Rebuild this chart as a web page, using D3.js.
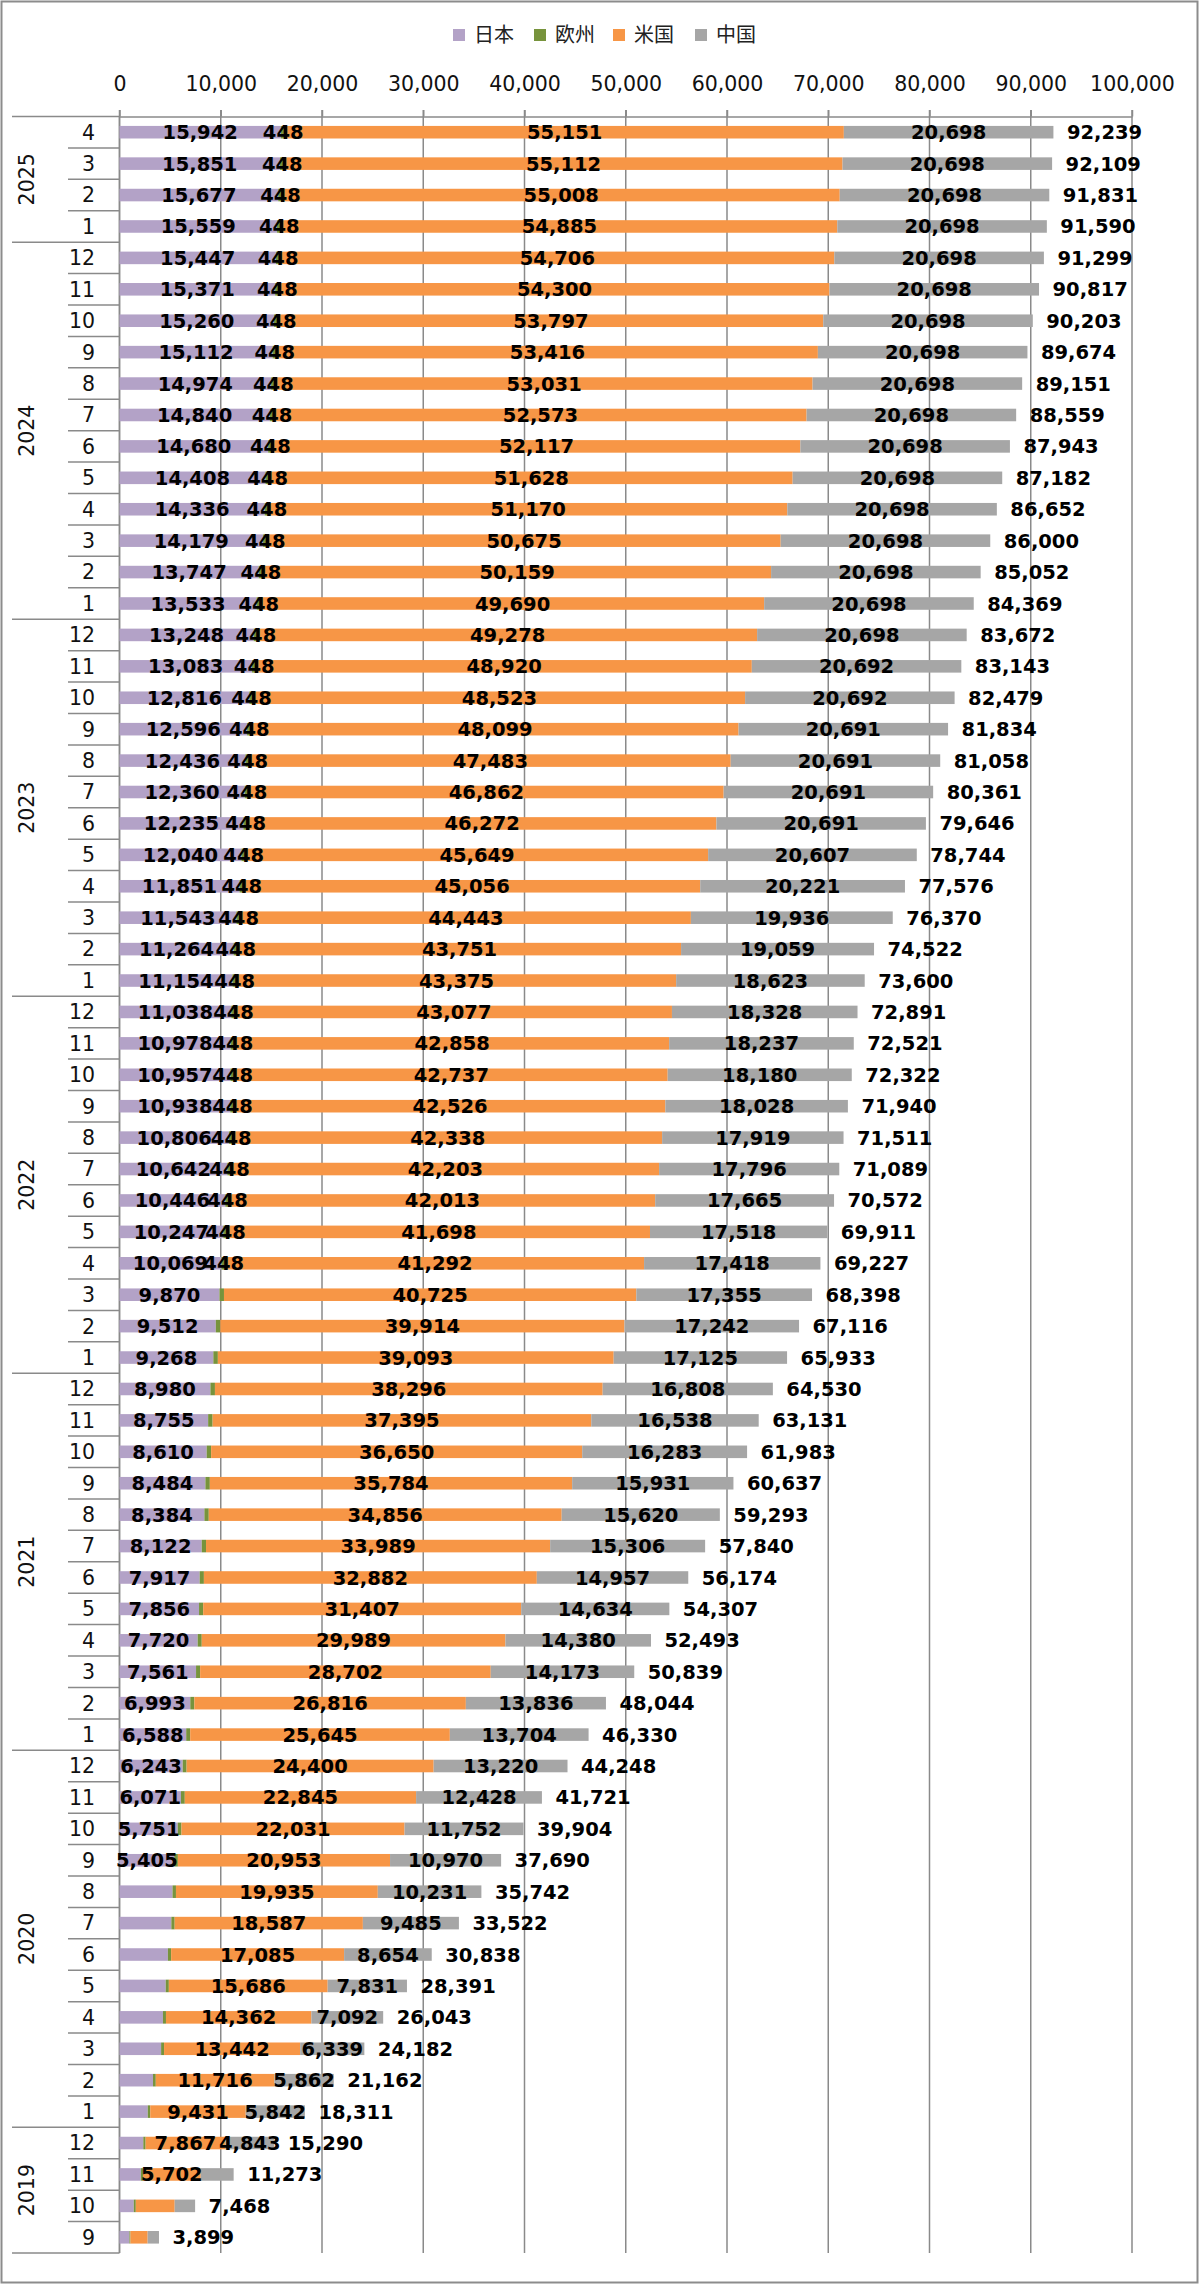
<!DOCTYPE html>
<html>
<head>
<meta charset="utf-8">
<script src="https://cdn.jsdelivr.net/npm/d3@7"></script>
<style>
  html, body { margin: 0; padding: 0; background: #fff; }
  svg { display: block; }
</style>
</head>
<body>
<svg id="chart" width="1200" height="2285"></svg>
<script>
// ---------------- DATA (chronological, oldest first) ----------------
const yearLabels = ["2019", "2020", "2021", "2022", "2023", "2024", "2025"];
const monthsPerYear = [
  [9, 10, 11, 12],
  [1, 2, 3, 4, 5, 6, 7, 8, 9, 10, 11, 12],
  [1, 2, 3, 4, 5, 6, 7, 8, 9, 10, 11, 12],
  [1, 2, 3, 4, 5, 6, 7, 8, 9, 10, 11, 12],
  [1, 2, 3, 4, 5, 6, 7, 8, 9, 10, 11, 12],
  [1, 2, 3, 4, 5, 6, 7, 8, 9, 10, 11, 12],
  [1, 2, 3, 4]
];
const seriesNames = ["日本", "欧州", "米国", "中国"];
const seriesColors = ["#b3a2c7", "#77933c", "#f79646", "#a6a6a6"];

const japan = [
  980, 1410, 2110, 2350,
  2790, 3310, 4110, 4290, 4565, 4780, 5120, 5235, 5405, 5751, 6071, 6243,
  6588, 6993, 7561, 7720, 7856, 7917, 8122, 8384, 8484, 8610, 8755, 8980,
  9268, 9512, 9870, 10069, 10247, 10446, 10642, 10806, 10938, 10957, 10978, 11038,
  11154, 11264, 11543, 11851, 12040, 12235, 12360, 12436, 12596, 12816, 13083, 13248,
  13533, 13747, 14179, 14336, 14408, 14680, 14840, 14974, 15112, 15260, 15371, 15447,
  15559, 15677, 15851, 15942
];
const europe = [
  100, 200, 210, 230,
  248, 274, 291, 299, 309, 319, 330, 341, 362, 370, 377, 385,
  393, 399, 403, 404, 410, 418, 423, 433, 438, 440, 443, 446,
  447, 448, 448, 448, 448, 448, 448, 448, 448, 448, 448, 448,
  448, 448, 448, 448, 448, 448, 448, 448, 448, 448, 448, 448,
  448, 448, 448, 448, 448, 448, 448, 448, 448, 448, 448, 448,
  448, 448, 448, 448
];
const usa = [
  1700, 3840, 5702, 7867,
  9431, 11716, 13442, 14362, 15686, 17085, 18587, 19935, 20953, 22031, 22845, 24400,
  25645, 26816, 28702, 29989, 31407, 32882, 33989, 34856, 35784, 36650, 37395, 38296,
  39093, 39914, 40725, 41292, 41698, 42013, 42203, 42338, 42526, 42737, 42858, 43077,
  43375, 43751, 44443, 45056, 45649, 46272, 46862, 47483, 48099, 48523, 48920, 49278,
  49690, 50159, 50675, 51170, 51628, 52117, 52573, 53031, 53416, 53797, 54300, 54706,
  54885, 55008, 55112, 55151
];
const china = [
  1119, 2018, 3251, 4843,
  5842, 5862, 6339, 7092, 7831, 8654, 9485, 10231, 10970, 11752, 12428, 13220,
  13704, 13836, 14173, 14380, 14634, 14957, 15306, 15620, 15931, 16283, 16538, 16808,
  17125, 17242, 17355, 17418, 17518, 17665, 17796, 17919, 18028, 18180, 18237, 18328,
  18623, 19059, 19936, 20221, 20607, 20691, 20691, 20691, 20691, 20692, 20692, 20698,
  20698, 20698, 20698, 20698, 20698, 20698, 20698, 20698, 20698, 20698, 20698, 20698,
  20698, 20698, 20698, 20698
];
const totals = [
  3899, 7468, 11273, 15290,
  18311, 21162, 24182, 26043, 28391, 30838, 33522, 35742, 37690, 39904, 41721, 44248,
  46330, 48044, 50839, 52493, 54307, 56174, 57840, 59293, 60637, 61983, 63131, 64530,
  65933, 67116, 68398, 69227, 69911, 70572, 71089, 71511, 71940, 72322, 72521, 72891,
  73600, 74522, 76370, 77576, 78744, 79646, 80361, 81058, 81834, 82479, 83143, 83672,
  84369, 85052, 86000, 86652, 87182, 87943, 88559, 89151, 89674, 90203, 90817, 91299,
  91590, 91831, 92109, 92239
];
// first row (chronological index) from which each series shows its value label
const labelFromRow = [12, 31, 2, 3];
const xTicks = [0, 10000, 20000, 30000, 40000, 50000, 60000, 70000, 80000, 90000, 100000];

// ---------------- BUILD ROWS ----------------
const rows = [];
yearLabels.forEach((yr, yi) => {
  monthsPerYear[yi].forEach(m => rows.push({ year: yr, month: m }));
});
const seriesVals = [japan, europe, usa, china];
rows.forEach((r, i) => {
  r.i = i;
  r.vals = seriesVals.map(a => a[i]);
  r.total = totals[i];
});

// ---------------- LAYOUT ----------------
const svg = d3.select("#chart");
const plotTop = 116.5, plotBottom = 2253;
const catLeft = 12, monthLineLeft = 68;
const x = d3.scaleLinear().domain([0, 100000]).range([119.5, 1132]);
const order = rows.map(r => r.i).reverse(); // newest at top
const y = d3.scaleBand().domain(order).range([plotTop, plotBottom])
  .paddingInner(0.6).paddingOuter(0.3);
const step = y.step();

const gridColor = "#8a8a8a";
const numFont = "'DejaVu Sans', Verdana, sans-serif";

// outer border
svg.append("rect").attr("x", 1.5).attr("y", 1.5).attr("width", 1196).attr("height", 2281)
  .attr("fill", "#fff").attr("stroke", "#8c8c8c").attr("stroke-width", 2);

// legend
const legendX = [453, 534, 613, 695];
const lg = svg.append("g");
seriesNames.forEach((n, k) => {
  lg.append("rect").attr("x", legendX[k]).attr("y", 29).attr("width", 12).attr("height", 12)
    .attr("fill", seriesColors[k]);
  lg.append("text").attr("x", legendX[k] + 21).attr("y", 42)
    .attr("font-family", "'Noto Sans CJK JP', sans-serif").attr("font-size", 20)
    .attr("fill", "#222").text(n);
});

// gridlines
svg.append("g").selectAll("line").data(xTicks).join("line")
  .attr("x1", d => x(d)).attr("x2", d => x(d))
  .attr("y1", plotTop - 6.5).attr("y2", plotBottom)
  .attr("stroke", gridColor).attr("stroke-width", 1.5);

// top axis labels
const axis = d3.axisTop(x).tickValues(xTicks).tickFormat(d3.format(","))
  .tickSizeInner(6.5).tickSizeOuter(0).tickPadding(19.5);
const ag = svg.append("g").attr("transform", `translate(0,${plotTop})`).call(axis);
ag.select(".domain").attr("stroke", gridColor).attr("stroke-width", 1.5);
ag.selectAll(".tick line").attr("stroke", gridColor).attr("stroke-width", 1.5);
ag.selectAll(".tick text").attr("font-family", numFont).attr("font-size", 20.5).attr("fill", "#111");

// category axis (left)
const cg = svg.append("g");
cg.append("line").attr("x1", x(0)).attr("x2", x(0)).attr("y1", plotTop).attr("y2", plotBottom)
  .attr("stroke", gridColor).attr("stroke-width", 1.5);
const displayRows = order.map(i => rows[i]);
displayRows.forEach((r, k) => {
  const top = plotTop + k * step;
  const prev = k > 0 ? displayRows[k - 1] : null;
  const isYearBoundary = !prev || prev.year !== r.year;
  cg.append("line").attr("x1", isYearBoundary ? catLeft : monthLineLeft).attr("x2", x(0))
    .attr("y1", top).attr("y2", top).attr("stroke", gridColor).attr("stroke-width", 1.5);
});
cg.append("line").attr("x1", catLeft).attr("x2", x(0)).attr("y1", plotBottom).attr("y2", plotBottom)
  .attr("stroke", gridColor).attr("stroke-width", 1.5);

// month labels
cg.selectAll("text.month").data(rows).join("text").attr("class", "month")
  .attr("x", 95).attr("y", d => y(d.i) + y.bandwidth() / 2).attr("dy", "0.36em")
  .attr("text-anchor", "end").attr("font-family", numFont).attr("font-size", 20.5).attr("fill", "#111")
  .text(d => d.month);

// year labels
yearLabels.forEach(yr => {
  const ys = rows.filter(r => r.year === yr).map(r => y(r.i));
  const y0 = d3.min(ys) - (step - y.bandwidth()) / 2;
  const y1 = d3.max(ys) + y.bandwidth() + (step - y.bandwidth()) / 2;
  const cy = (y0 + y1) / 2;
  cg.append("text").attr("transform", `translate(27,${cy}) rotate(-90)`)
    .attr("text-anchor", "middle").attr("dy", "0.36em")
    .attr("font-family", numFont).attr("font-size", 20.5).attr("fill", "#111").text(yr);
});

// stacked bars
const stackData = rows.map(r => {
  const o = { i: r.i };
  seriesNames.forEach((n, k) => o[n] = r.vals[k]);
  return o;
});
const stacked = d3.stack().keys(seriesNames)(stackData);
const bg = svg.append("g");
stacked.forEach((layer, k) => {
  bg.append("g").attr("fill", seriesColors[k]).selectAll("rect").data(layer).join("rect")
    .attr("x", d => x(d[0])).attr("width", d => x(d[1]) - x(d[0]))
    .attr("y", d => y(d.data.i)).attr("height", y.bandwidth());
});

// value labels
const fmt = d3.format(",");
const lgp = svg.append("g").attr("font-family", numFont).attr("font-weight", "bold")
  .attr("font-size", 19.5).attr("fill", "#000");
stacked.forEach((layer, k) => {
  lgp.append("g").selectAll("text")
    .data(layer.filter(d => d.data.i >= labelFromRow[k]))
    .join("text")
    .attr("x", d => (x(d[0]) + x(d[1])) / 2)
    .attr("y", d => y(d.data.i) + y.bandwidth() / 2).attr("dy", "0.36em")
    .attr("text-anchor", "middle")
    .text(d => fmt(d[1] - d[0]));
});
// totals
lgp.append("g").selectAll("text").data(rows).join("text")
  .attr("x", d => x(d.total) + 13.5)
  .attr("y", d => y(d.i) + y.bandwidth() / 2).attr("dy", "0.36em")
  .attr("text-anchor", "start")
  .text(d => fmt(d.total));
</script>
</body>
</html>
